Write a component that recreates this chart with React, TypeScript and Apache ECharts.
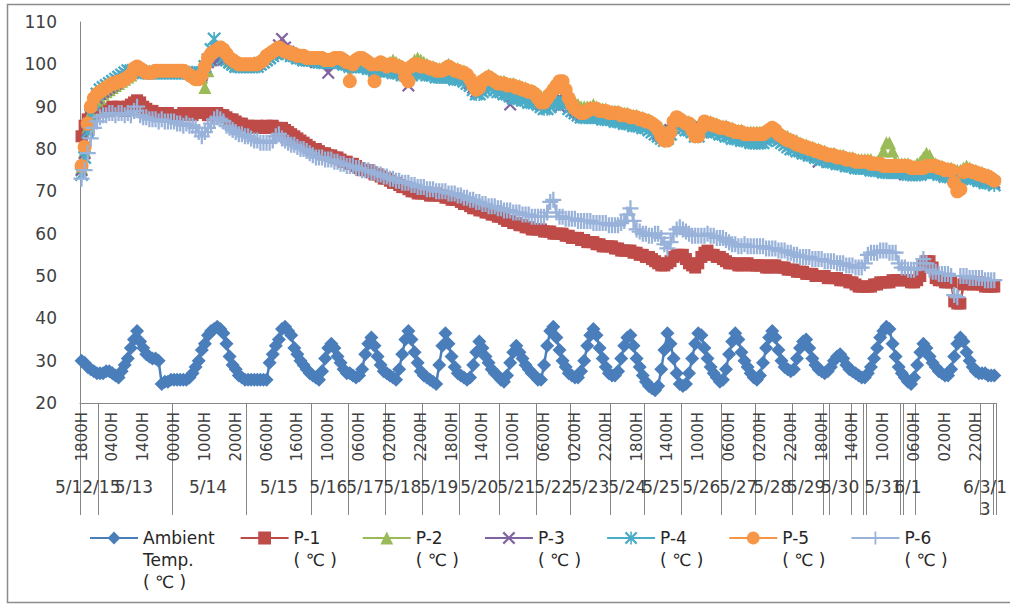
import React, { useEffect, useRef } from "react";
import * as echarts from "echarts";

// Hour tick labels, one for every 10th category
const hourLabels = [
  "1800H", "0400H", "1400H", "0000H", "1000H", "2000H", "0600H", "1600H",
  "1000H", "0600H", "0200H", "2200H", "1800H", "1400H",
  "1000H", "0600H", "0200H", "2200H", "1800H", "1400H",
  "1000H", "0600H", "0200H", "2200H", "1800H", "1400H",
  "1000H", "0600H", "0200H", "2200H",
];

// Date groups of the second category level: [label, number of categories]
const dateGroups: [string, number][] = [
  ["5/12/15", 6], ["5/13", 24], ["5/14", 24], ["5/15", 21], ["5/16", 12], ["5/17", 12],
  ["5/18", 12], ["5/19", 12], ["5/20", 13], ["5/21", 12], ["5/22", 11], ["5/23", 13],
  ["5/24", 11], ["5/25", 12], ["5/26", 13], ["5/27", 11], ["5/28", 12], ["5/29", 10],
  ["", 2], ["5/30", 7], ["", 4], ["", 1], ["5/31", 11], ["", 1], ["6/1", 4], ["", 21],
  ["6/3/1\n3", 4], ["", 1],
];

const seriesNames = [
  "Ambient\nTemp.\n( ℃ )", "P-1\n( ℃ )", "P-2\n( ℃ )", "P-3\n( ℃ )",
  "P-4\n( ℃ )", "P-5\n( ℃ )", "P-6\n( ℃ )",
];

const ambient = [
  30, 29.5, 28.5, 28, 27.5, 27,
  27, 27, 27.5, 27.5, 27, 26.5, 26, 27.5, 29, 30.5, 33, 35, 37, 34.5, 33, 31.5, 31, 30.5, 30.5, 30, 24.5, 25, 25, 25.5,
  25.5, 25.5, 25.5, 25.5, 25.5, 26, 27, 28.5, 30, 32.5, 34, 36, 37, 37.5, 38, 37.5, 36.5, 34, 31, 29, 28, 26.5, 26, 25.5,
  25.5, 25.5, 25.5, 25.5, 25.5, 25.5, 25.5, 29.5, 31.5, 33.5, 35, 37.5, 38, 37, 36, 33, 31.5, 30, 29, 28, 27,
  26.5, 26, 25.5, 27.5, 30.5, 33, 34, 33, 31, 29.5, 28, 27,
  27, 26.5, 26, 26.5, 28, 31.5, 34, 35.5, 33.5, 31, 29, 27.5,
  27, 26.5, 26, 25.5, 28, 31.5, 35, 37, 35, 32, 29.5, 27.5,
  26.5, 26, 25.5, 25, 24.5, 29, 33.5, 36.5, 34, 31, 28.5, 27,
  26.5, 26, 25.5, 26, 29, 32, 34.5, 33, 31, 29.5, 28, 27, 26.5,
  25.5, 25, 26.5, 29.5, 32, 33.5, 32, 30.5, 29, 28, 27, 26.5,
  25.5, 25.5, 29, 33.5, 37, 38, 35.5, 32.5, 30, 28.5, 27,
  26.5, 26, 26, 27.5, 30, 33.5, 36, 37.5, 36, 33, 30.5, 28.5, 27,
  26.5, 26.5, 27.5, 30.5, 33.5, 35.5, 36, 33.5, 30.5, 28.5, 26.5,
  25, 24, 23.5, 23, 24, 28, 32.5, 36.5, 34, 30.5, 27, 24.5,
  24, 24.5, 27, 30.5, 34, 36.5, 36, 33, 30.5, 28.5, 27, 26, 25,
  25.5, 28, 31.5, 34.5, 36.5, 35, 32, 30, 28.5, 27, 26,
  25.5, 26.5, 29.5, 33, 35.5, 37, 35.5, 32.5, 30, 28.5, 28, 27.5,
  28, 30.5, 33, 34.5, 35, 33, 30.5, 29, 28, 27.5,
  27, 27.5,
  28.5, 30, 31, 31.5, 30.5, 29, 28,
  27.5, 27, 26.5, 26,
  26,
  27, 28.5, 30.5, 33, 35.5, 37, 38, 37.5, 34, 31, 28.5,
  27,
  26, 25, 24.5, 26,
  29, 32, 34, 33, 31, 29.5, 28.5, 27.5, 27, 26.5, 26.5, 28, 31, 34, 35.5, 34.5, 32, 30, 28.5, 27.5, 27,
  27, 27, 26.5, 26.5,
  26.5,
];

const p1 = [
  83, 85.5, 87, 88, 88.5, 89,
  89, 89.5, 89, 89, 90, 89.5, 90, 89.5, 89, 90, 90.5, 91, 91.5, 91, 90, 89.5, 89, 89, 88.5, 88.5, 88, 88, 88.5, 88,
  88, 88, 88, 88.5, 88.5, 88.5, 88, 88.5, 88.5, 88.5, 88.5, 88, 88, 88.5, 88.5, 88, 88, 87.5, 87, 87, 86.5, 86, 86, 85.5,
  85.5, 85, 85, 85.5, 85, 85, 85.5, 85, 85.5, 85, 84.5, 85, 84.5, 84, 83.5, 83, 82.5, 82, 81.5, 81, 80.5,
  80, 80, 79.5, 79, 79, 78.5, 78.5, 78, 78, 77.5, 77, 77,
  76.5, 76.5, 76, 75.5, 75, 75, 75, 74.5, 74, 74, 73.5, 73,
  73, 72.5, 72, 72, 71.5, 71, 71, 70.5, 70, 70, 69.5, 69.5,
  69.5, 69.5, 69, 69, 69.5, 69, 69, 68.5, 68.5, 68, 68, 68,
  67.5, 67, 67, 66.5, 66, 66, 65.5, 65.5, 65, 65, 64.5, 64.5, 64,
  64, 63.5, 63, 63, 62.5, 62.5, 62, 62, 61.5, 61.5, 61, 61,
  61, 61, 60.5, 60.5, 60.5, 60, 60, 60, 60, 59.5, 59.5,
  59, 59, 59, 58.5, 58.5, 58, 58, 58, 57.5, 57.5, 57, 57, 57,
  57, 56.5, 56.5, 56, 56, 56, 56, 55.5, 55.5, 55, 55,
  54.5, 54.5, 54, 53.5, 53, 52.5, 52.5, 53, 53.5, 54.5, 55, 55,
  55, 54, 53, 52.5, 52, 53, 54.5, 55.5, 56, 55, 55, 54.5, 54.5,
  54, 53.5, 53, 53, 53, 52.5, 52.5, 53, 53, 52.5, 52.5,
  52.5, 52.5, 52.5, 52, 52, 52.5, 52.5, 52, 52, 52, 51.5, 51.5,
  51.5, 51, 51, 51, 50.5, 50.5, 50.5, 50, 50, 50,
  50, 49.5,
  49.5, 49.5, 49.5, 49, 49, 49, 48.5,
  48.5, 48, 47.5, 47.5,
  47.5,
  47.5, 47.5, 48, 48, 48.5, 48.5, 48.5, 48.5, 49, 49, 49,
  49,
  49, 49, 48.5, 48.5,
  49, 50, 52.5, 53.5, 53.5, 52, 49.5, 49, 49, 48.5, 48.5, 48.5, 44, 43.5, 43.5, 48, 48.5, 48.5, 48, 48, 48.5,
  48, 47.5, 47.5, 47.5,
  47.5,
];

const p2 = [
  75.5, 79.5, 85, 88.5, 90.5, 91.5,
  92, 93, 93.5, 94, 94.5, 95, 95.5, 96, 96.5, 97, 97.5, 98.5, 99, 99, 98.5, 98.5, 98.5, 98.5, 98.5, 98.5, 98.5, 98.5, 98.5, 98.5,
  98.5, 98.5, 98.5, 98.5, 98.5, 98, 97.5, 97.5, 97.5, 97, 94.5, 98.5, 101, 102, 102.5, 103, 102.5, 102, 101, 100.5, 100, 100, 100, 100,
  100, 100, 100.5, 100.5, 101, 101.5, 102, 102.5, 103, 103.5, 103.5, 103.5, 103, 103, 102.5, 102.5, 102, 102, 102, 101.5, 101.5,
  101.5, 101.5, 101.5, 101.5, 101, 101, 101, 101.5, 101.5, 101.5, 101, 101,
  100.5, 100.5, 101, 101.5, 101.5, 101, 100.5, 100, 98.5, 100, 100.5, 100.5,
  100, 100.5, 101, 100.5, 100, 99.5, 99, 98.5, 100, 101, 101.5, 101,
  100.5, 100, 99.5, 99.5, 99, 99, 99, 99.5, 100, 99.5, 99, 99,
  98.5, 98.5, 98, 97, 96, 95.5, 96, 96.5, 97, 97.5, 97, 96.5, 96,
  96, 96, 95.5, 95.5, 95.5, 95, 95, 94.5, 94.5, 94, 94, 93.5,
  93, 92.5, 92.5, 93, 93.5, 94, 94.5, 95, 95, 94, 92.5,
  91.5, 91, 90.5, 90, 90, 90, 90, 90.5, 90, 89.5, 89.5, 89.5, 89,
  89, 89, 89, 88.5, 88.5, 88.5, 88, 88, 88, 87.5, 87.5,
  87, 87, 86.5, 86, 85.5, 85, 84.5, 84.5, 85.5, 87, 87.5, 87.5,
  87, 86.5, 86.5, 86, 85.5, 85.5, 86, 86.5, 86.5, 86.5, 86, 86, 85.5,
  85.5, 85.5, 85, 85, 84.5, 84.5, 84.5, 84, 84, 84, 84,
  84, 84, 84, 84.5, 85, 85, 84.5, 84, 83.5, 83, 83, 82.5,
  82, 82, 81.5, 81, 81, 80.5, 80.5, 80, 80, 79.5,
  79.5, 79,
  79, 79, 78.5, 78.5, 78.5, 78, 78,
  78, 77.5, 77.5, 77.5,
  77.5,
  77.5, 77.5, 77, 77, 77, 79.5, 81.5, 81.5, 79.5, 77, 76.5,
  76.5,
  76.5, 76.5, 76, 76,
  76.5, 77, 78, 79, 78.5, 77, 76.5, 76, 76, 75.5, 75.5, 75.5, 75, 75, 75, 75.5, 76, 75.5, 75, 75, 74.5,
  74.5, 74, 74, 73.5,
  73,
];

const p3 = [
  75, 79, 84.5, 88, 90.5, 92,
  93, 93.5, 94, 94.5, 95, 95.5, 96, 96.5, 97, 97.5, 98, 98.5, 98.5, 98.5, 98, 98, 98, 98, 98, 98, 98, 98, 98, 98,
  98, 98, 98, 98, 98, 98, 97.5, 97.5, 97, 97.5, 99.5, 100.5, 101, 101.5, 101.5, 101.5, 101, 101, 100.5, 100, 99.5, 99.5, 99.5, 99.5,
  99.5, 99.5, 99.5, 100, 100, 100.5, 101, 101.5, 102.5, 103, 104.5, 106, 104, 103, 102.5, 102, 101.5, 101.5, 101.5, 101, 101,
  101, 100.5, 100.5, 100.5, 100.5, 98, 100.5, 101, 101, 100.5, 100.5, 100,
  100, 100, 100.5, 101, 101, 100.5, 100, 99.5, 99, 99.5, 99.5, 99.5,
  99, 99, 99.5, 99.5, 99, 98.5, 98, 95, 98.5, 99, 99, 99,
  99, 98.5, 98.5, 98, 98, 98, 98, 98.5, 98.5, 98, 98, 97.5,
  97.5, 97, 96.5, 95.5, 94.5, 93.5, 94, 95, 95.5, 95.5, 95.5, 95, 94.5,
  94.5, 94, 94, 90.5, 93.5, 93.5, 93.5, 93, 93, 92.5, 92.5, 92,
  91.5, 90.5, 90.5, 91, 92, 92.5, 93, 90, 93, 92.5, 91,
  90, 89, 88.5, 88, 88, 88.5, 88.5, 88.5, 88.5, 88.5, 88, 88, 88,
  88, 87.5, 87.5, 87.5, 87, 87, 87, 86.5, 86.5, 86.5, 86,
  86, 85.5, 85, 84.5, 83.5, 83, 82.5, 83, 84.5, 86, 86.5, 86.5,
  86, 85.5, 85.5, 85, 84, 84, 85, 85.5, 85.5, 85.5, 85, 85, 84.5,
  84.5, 84, 84, 83.5, 83.5, 83.5, 83, 83, 83, 82.5, 82.5,
  82.5, 82.5, 82.5, 83, 83.5, 84, 83.5, 83, 82.5, 82, 81.5, 81,
  80.5, 80.5, 80, 79.5, 79.5, 79, 79, 78.5, 77, 78.5,
  78, 78,
  77.5, 77.5, 77, 77, 77, 76.5, 76.5,
  76.5, 76, 76, 76,
  76,
  76, 75.5, 75.5, 75.5, 75.5, 75, 75, 75, 75, 75, 75,
  74.5,
  74, 74.5, 74.5, 74.5,
  74.5, 74.5, 75, 75, 75, 75, 75, 74.5, 74.5, 74, 74, 74, 73.5, 73.5, 73.5, 74, 74, 74, 73.5, 73.5, 73,
  73, 72.5, 72.5, 72.5,
  72,
];

const p4 = [
  74, 78, 84, 88, 91, 93,
  94, 94.5, 95, 95.5, 96, 96.5, 97, 97.5, 98, 98.5, 98.5, 98.5, 98.5, 98.5, 98, 98, 98, 98, 98, 98, 98, 98, 98, 98,
  98, 98, 98, 98, 98, 98, 98, 97.5, 97.5, 98, 99.5, 101, 103.5, 106, 104, 102.5, 101.5, 101, 100.5, 100, 99.5, 99.5, 99.5, 99.5,
  99.5, 99.5, 99.5, 99.5, 100, 100.5, 101, 101.5, 102, 102.5, 103, 103, 103, 102.5, 102, 102, 101.5, 101.5, 101, 101, 101,
  101, 101, 100.5, 100.5, 100.5, 100.5, 100.5, 100.5, 100.5, 100.5, 100, 100,
  99.5, 99.5, 99.5, 99.5, 99.5, 99.5, 99, 99, 98.5, 98.5, 98.5, 98.5,
  98.5, 98.5, 98, 98, 98, 97.5, 97.5, 97, 97.5, 98, 98, 98,
  98, 97.5, 97.5, 97.5, 97, 97, 97, 97, 97, 97, 96.5, 96.5,
  96.5, 96, 95.5, 95, 94, 93, 93, 93.5, 94, 94.5, 94.5, 94, 93.5,
  93.5, 93, 93, 92.5, 92, 92, 92, 91.5, 91.5, 91, 91, 91,
  90.5, 90, 89.5, 89.5, 90, 90.5, 91, 91, 91, 90.5, 89.5,
  89, 88.5, 88, 87.5, 87.5, 87.5, 87.5, 87.5, 87.5, 87.5, 87, 87, 87,
  87, 86.5, 86.5, 86.5, 86, 86, 86, 85.5, 85.5, 85.5, 85,
  85, 84.5, 84, 83.5, 83, 82.5, 82, 82.5, 83.5, 85, 85.5, 85.5,
  85, 84.5, 84.5, 84, 83, 83, 84, 84.5, 84.5, 84.5, 84, 84, 83.5,
  83.5, 83, 83, 82.5, 82.5, 82.5, 82, 82, 82, 81.5, 81.5,
  81.5, 81.5, 81.5, 82, 82.5, 83, 82.5, 82, 81.5, 81, 80.5, 80,
  80, 79.5, 79.5, 79, 79, 78.5, 78.5, 78, 78, 77.5,
  77.5, 77,
  77, 77, 76.5, 76.5, 76.5, 76, 76,
  76, 75.5, 75.5, 75.5,
  75.5,
  75.5, 75, 75, 75, 75, 74.5, 74.5, 74.5, 74.5, 74.5, 74.5,
  74.5,
  74.5, 74, 74, 74,
  74, 74, 74.5, 74.5, 74.5, 74.5, 74.5, 74, 74, 73.5, 73.5, 73.5, 73, 73, 73, 73.5, 73.5, 73.5, 73, 73, 72.5,
  72.5, 72, 72, 72,
  71.5,
];

const p5 = [
  76, 80.5, 86, 90, 92, 93,
  93.5, 94, 94.5, 95, 95.5, 95.5, 96, 96, 96.5, 97, 97.5, 99, 99.5, 99, 98.5, 98, 98, 98, 98.5, 98.5, 98.5, 98.5, 98.5, 98.5,
  98.5, 98.5, 98.5, 98.5, 98, 97.5, 97, 96.5, 96.5, 97.5, 99.5, 101.5, 102.5, 103, 103.5, 104, 103.5, 102.5, 101.5, 101, 100.5, 100, 100, 100,
  100, 100, 100, 100, 100.5, 101, 102, 102.5, 103, 103.5, 104, 103.5, 103, 103, 102.5, 102.5, 102, 102, 102, 101.5, 101.5,
  101.5, 101.5, 101.5, 101.5, 101, 101, 101, 101.5, 101.5, 101.5, 101, 100.5,
  96, 100, 101, 101.5, 101.5, 101, 100.5, 100, 96, 100, 100.5, 100,
  99.5, 100, 100, 99.5, 99.5, 99, 97, 96, 99.5, 100, 100, 99.5,
  99.5, 99.5, 99, 99, 98.5, 98.5, 98.5, 99, 99.5, 99, 98.5, 98.5,
  98, 98, 97.5, 96.5, 95, 94, 94.5, 96, 96.5, 97, 96.5, 96, 95.5,
  95.5, 95.5, 95, 95, 95, 94.5, 94.5, 94, 94, 93.5, 93.5, 93,
  92, 91, 91, 92, 93, 94, 95, 96, 96, 94, 92,
  90.5, 89.5, 89, 88.5, 88.5, 89, 89.5, 89.5, 89.5, 89, 89, 89, 88.5,
  88.5, 88.5, 88.5, 88, 88, 88, 87.5, 87.5, 87.5, 87, 87,
  86.5, 86.5, 86, 85.5, 84.5, 83, 82, 82, 84, 86.5, 87.5, 87,
  86.5, 86, 86, 84.5, 83, 83, 85, 86.5, 86, 86, 85.5, 85.5, 85,
  85, 85, 84.5, 84.5, 84, 84, 84, 83.5, 83.5, 83.5, 83.5,
  83.5, 83.5, 83.5, 84, 84.5, 85, 84.5, 83.5, 83, 82.5, 82, 82,
  81.5, 81, 81, 80.5, 80.5, 80, 80, 79.5, 79.5, 79,
  79, 78.5,
  78.5, 78.5, 78, 78, 78, 77.5, 77.5,
  77.5, 77, 77, 77,
  77,
  77, 76.5, 76.5, 76.5, 76.5, 76, 76, 76, 76, 76, 76,
  76,
  76, 76, 75.5, 75.5,
  75.5, 75.5, 75.5, 76, 76, 76, 76, 75.5, 75.5, 75, 75, 75, 72, 70, 70.5, 74.5, 75, 75, 74.5, 74.5, 74,
  74, 73.5, 73.5, 73,
  72.5,
];

const p6 = [
  73, 75, 79, 82.5, 85, 86.5,
  87.5, 88, 88, 88.5, 88.5, 88, 88.5, 88.5, 88, 88.5, 88, 89, 90, 88, 87.5, 87.5, 87, 87, 87, 86.5, 87, 86.5, 86.5, 86.5,
  86.5, 86, 86, 85.5, 86, 85.5, 85.5, 85, 84, 83, 84, 85, 86, 87, 87.5, 87, 86.5, 85.5, 85, 84.5, 84, 83.5, 83.5, 83,
  83, 82.5, 82, 82, 81.5, 81.5, 81.5, 81.5, 82, 83, 83.5, 82.5, 82, 81.5, 81, 81, 80.5, 80, 80, 79.5, 79,
  78.5, 78, 78, 78, 77.5, 77.5, 77.5, 77, 77, 76.5, 76.5, 76,
  76, 76, 75.5, 75.5, 75, 75, 75, 74.5, 74.5, 74, 74, 73.5,
  73.5, 73, 73, 72.5, 72.5, 72, 72, 72, 71.5, 71.5, 71, 71,
  71, 70.5, 70.5, 70.5, 70, 70, 70, 70, 69.5, 69.5, 69.5, 69,
  69, 68.5, 68.5, 68, 68, 67.5, 67.5, 67, 67, 66.5, 66.5, 66.5, 66,
  66, 65.5, 65.5, 65.5, 65, 65, 65, 64.5, 64.5, 64.5, 64, 64,
  64, 64, 64, 65, 67.5, 68, 65, 64, 64, 63.5, 63.5,
  63.5, 63.5, 63, 63, 63, 63, 63, 62.5, 62.5, 62.5, 62.5, 62.5, 62,
  62, 62, 62, 62.5, 63, 64.5, 66, 63, 61, 60.5, 60,
  60, 59.5, 59.5, 60, 60, 59, 57.5, 56.5, 58, 60, 61, 61.5,
  61, 60.5, 60, 59.5, 59.5, 59.5, 59.5, 59.5, 60, 59.5, 59.5, 59, 59,
  59, 58.5, 58, 57.5, 57.5, 57, 57, 57.5, 57, 57, 57,
  57, 57, 57, 56.5, 56.5, 56.5, 56.5, 56, 56, 56, 55.5, 55.5,
  55, 55, 54.5, 54.5, 54.5, 54.5, 54, 54, 54, 54,
  53.5, 53.5,
  53.5, 53.5, 53, 53, 53, 52.5, 52.5,
  52.5, 52, 52, 52,
  53,
  55, 55.5, 55.5, 55.5, 56, 56, 56, 55.5, 55.5, 55.5, 53,
  52,
  52, 51.5, 51.5, 51.5,
  52, 53, 54, 53, 51.5, 51, 51, 50.5, 50.5, 50.5, 50.5, 50, 45.5, 45, 50, 50, 50, 49.5, 49.5, 49.5, 49.5,
  49.5, 49, 49, 49,
  49,
];

const colors = ["#4A7EBB", "#BE4B48", "#9BBB59", "#8064A2", "#4BACC6", "#F79646", "#98B2DA"];
const X_PATH = "path://M0,1.2L1.2,0L5,3.8L8.8,0L10,1.2L6.2,5L10,8.8L8.8,10L5,6.2L1.2,10L0,8.8L3.8,5Z";
const STAR_PATH = X_PATH + "M4.4,0L5.6,0L5.6,10L4.4,10Z";
const PLUS_PATH = "path://M4.3,0H5.7V4.3H10V5.7H5.7V10H4.3V5.7H0V4.3H4.3Z";
const symbols = ["diamond", "rect", "triangle", X_PATH, STAR_PATH, "circle", PLUS_PATH];
const symbolSizes = [14, 12, 13, 13, 14, 14, 16];
const seriesData = [ambient, p1, p2, p3, p4, p5, p6];

const FONT = "DejaVu Sans";

export default function App() {
  const ref = useRef<HTMLDivElement>(null);

  useEffect(() => {
    if (!ref.current) return;
    const chart = echarts.init(ref.current, undefined, { renderer: "svg" });

    const categories = ambient.map((_, i) => String(i));
    const boundaries = new Set<number>();
    const dateLabelAt: Record<number, string> = {};
    let start = 0;
    dateGroups.forEach(([label, count]) => {
      boundaries.add(start);
      if (label) dateLabelAt[start + Math.floor((count - 1) / 2)] = label;
      start += count;
    });

    // Legend text: blank lines before so that the first line sits level with the icon
    const legendText = (name: string) => {
      const lines = name.split("\n");
      return "\n".repeat(lines.length - 1) + name;
    };

    const option: any = {
      animation: false,
      color: colors,
      textStyle: { fontFamily: FONT },
      grid: { left: 80, right: 13, top: 22, bottom: 202, containLabel: false },
      xAxis: [
        {
          type: "category",
          data: categories,
          position: "bottom",
          axisLine: { show: true, lineStyle: { color: "#868686", width: 1 } },
          axisTick: {
            show: true,
            interval: (i: number) => boundaries.has(i),
            length: 112,
            lineStyle: { color: "#868686", width: 1 },
          },
          axisLabel: {
            interval: 9,
            rotate: 90,
            margin: 9,
            fontSize: 15,
            fontFamily: FONT,
            color: "#404040",
            showMinLabel: true,
            showMaxLabel: true,
            formatter: (_v: string, i: number) => hourLabels[Math.round(i / 10)] ?? "",
          },
          splitLine: { show: false },
        },
        {
          type: "category",
          data: categories,
          position: "bottom",
          offset: 65,
          axisLine: { show: false },
          axisTick: { show: false },
          axisLabel: {
            interval: 0,
            margin: 8,
            fontSize: 17,
            lineHeight: 22,
            fontFamily: FONT,
            color: "#404040",
            formatter: (_v: string, i: number) => dateLabelAt[i] ?? "",
          },
          splitLine: { show: false },
        },
      ],
      yAxis: {
        type: "value",
        min: 20,
        max: 110,
        interval: 10,
        axisLine: { show: true, lineStyle: { color: "#868686", width: 1 } },
        axisTick: { show: false },
        splitLine: { show: false },
        axisLabel: { fontSize: 17, fontFamily: FONT, color: "#404040", margin: 23 },
      },
      legend: {
        left: 89,
        top: 483,
        padding: 0,
        itemGap: 25,
        itemWidth: 48,
        itemHeight: 16,
        textStyle: { fontFamily: FONT, fontSize: 17, color: "#262626", lineHeight: 22 },
        formatter: legendText,
        data: seriesNames,
      },
      graphic: [
        {
          type: "rect",
          silent: true,
          z: -10,
          shape: { x: 7.5, y: 4.5, width: 1100, height: 598 },
          style: { fill: "none", stroke: "#8c8c8c", lineWidth: 1.5 },
        },
      ],
      series: seriesNames.map((name, k) => ({
        name,
        type: "line",
        data: seriesData[k],
        xAxisIndex: 0,
        yAxisIndex: 0,
        symbol: symbols[k],
        symbolSize: symbolSizes[k],
        showSymbol: true,
        showAllSymbol: true,
        lineStyle: { width: 2.5, color: colors[k] },
        itemStyle: { color: colors[k], borderWidth: 0 },
        emphasis: { disabled: true },
      })),
    };

    chart.setOption(option);
    return () => chart.dispose();
  }, []);

  return (
    <div
      ref={ref}
      style={{ position: "absolute", left: 0, top: 0, width: 1010, height: 605, background: "#fff" }}
    />
  );
}
